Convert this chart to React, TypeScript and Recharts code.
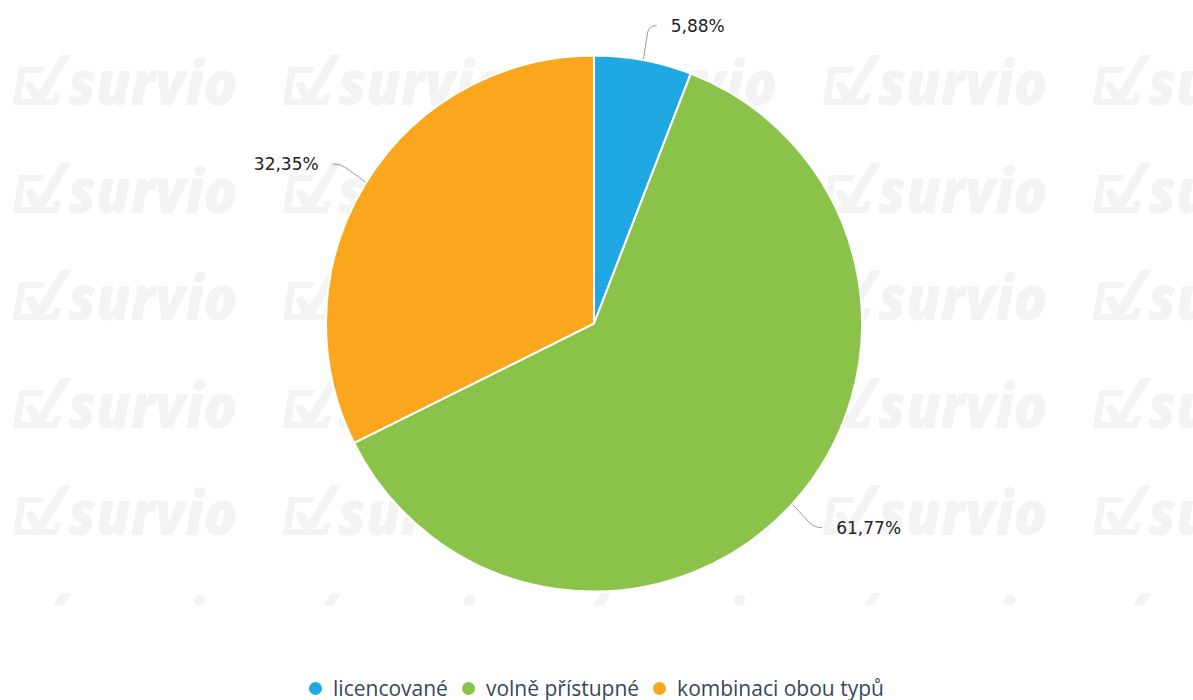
import React from 'react';
import { PieChart, Pie, Cell, Legend } from 'recharts';

// hodnoty z grafu
const categories = ['licencované', 'volně přístupné', 'kombinaci obou typů'];
const values = [5.88, 61.77, 32.35];
const colors = ['#1fa8e1', '#8bc34a', '#fba71e'];

const data = categories.map((name, i) => ({ name, value: values[i] }));

const W = 1193;
const H = 700;
const RAD = Math.PI / 180;

const wmCols = [15, 285, 555, 825, 1095];
const wmRows = [55, 163, 270, 378, 485, 593];

// vodoznak survio na pozadí
const Watermark = () => (
  <svg width={W} height={H} style={{ position: 'absolute', left: 0, top: 0 }}>
    <defs>
      <clipPath id="wmclip">
        <rect x={0} y={0} width={W} height={605} />
      </clipPath>
    </defs>
    <g clipPath="url(#wmclip)" fill="#f3f3f3" stroke="none">
      {wmRows.map((y) =>
        wmCols.map((x) => (
          <g key={`${x}-${y}`} transform={`translate(${x},${y})`}>
            <path d="M4 12 L30 12 L27 18 L10 18 L6 44 L38 44 L40 38 L46 38 L42 50 L-2 50 Z" />
            <path d="M10 28 L18 26 L24 36 L46 0 L56 0 L26 50 L20 50 Z" />
            <text
              x={0}
              y={0}
              transform="translate(53,50) scale(0.9,1)"
              fontFamily="'Open Sans', sans-serif"
              fontWeight={800}
              fontStyle="italic"
              fontSize={62}
            >
              survio
            </text>
          </g>
        ))
      )}
    </g>
  </svg>
);

const renderLabel = (props: any) => {
  const { cx, cy, midAngle, outerRadius, index } = props;
  const cos = Math.cos(-midAngle * RAD);
  const sin = Math.sin(-midAngle * RAD);
  const ex = cx + (outerRadius + 1) * cos;
  const ey = cy + (outerRadius + 1) * sin;
  const bx = cx + (outerRadius + 30) * cos;
  const by = cy + (outerRadius + 35) * sin;
  const right = cos >= 0;
  const dir = right ? 1 : -1;
  const mx = ex + (bx - ex) * 0.8;
  const my = ey + (by - ey) * 0.8;
  const label = values[index].toFixed(2).replace('.', ',') + '%';
  return (
    <g>
      <path
        d={`M${ex},${ey} L${mx},${my} Q${bx},${by} ${bx + dir * 8},${by}`}
        stroke="#999"
        strokeWidth={1}
        fill="none"
      />
      <text
        x={bx + dir * 22}
        y={by}
        dy={6}
        textAnchor={right ? 'start' : 'end'}
        fontFamily="'DejaVu Sans', sans-serif"
        fontSize={17}
        fill="#222"
      >
        {label}
      </text>
    </g>
  );
};

const renderLegend = () => (
  <div
    style={{
      display: 'flex',
      justifyContent: 'center',
      alignItems: 'center',
      fontFamily: "'Open Sans', sans-serif",
      fontSize: 21,
      lineHeight: '22px',
      color: '#34495e',
    }}
  >
    {categories.map((c, i) => (
      <div
        key={c}
        style={{ display: 'flex', alignItems: 'center', marginRight: i < categories.length - 1 ? 14 : 0 }}
      >
        <svg width={13} height={13} style={{ marginRight: 11 }}>
          <circle cx={6.5} cy={6.5} r={6.5} fill={colors[i]} />
        </svg>
        <span>{c}</span>
      </div>
    ))}
  </div>
);

export default function App() {
  return (
    <div style={{ position: 'absolute', left: 0, top: 0, width: W, height: H, background: '#fff' }}>
      <Watermark />
      <div style={{ position: 'absolute', left: 0, top: 0 }}>
        <PieChart width={W} height={H} margin={{ top: 0, right: 0, bottom: 0, left: 0 }}>
          <Pie
            data={data}
            dataKey="value"
            nameKey="name"
            cx={594}
            cy={323.5}
            outerRadius={268}
            startAngle={90}
            endAngle={-270}
            stroke="#fff"
            strokeWidth={2}
            label={renderLabel}
            labelLine={false}
            isAnimationActive={false}
          >
            {data.map((d, i) => (
              <Cell key={d.name} fill={colors[i]} />
            ))}
          </Pie>
          <Legend
            content={renderLegend}
            wrapperStyle={{ position: 'absolute', left: 0, top: 677, width: W, height: 22 }}
          />
        </PieChart>
      </div>
    </div>
  );
}
